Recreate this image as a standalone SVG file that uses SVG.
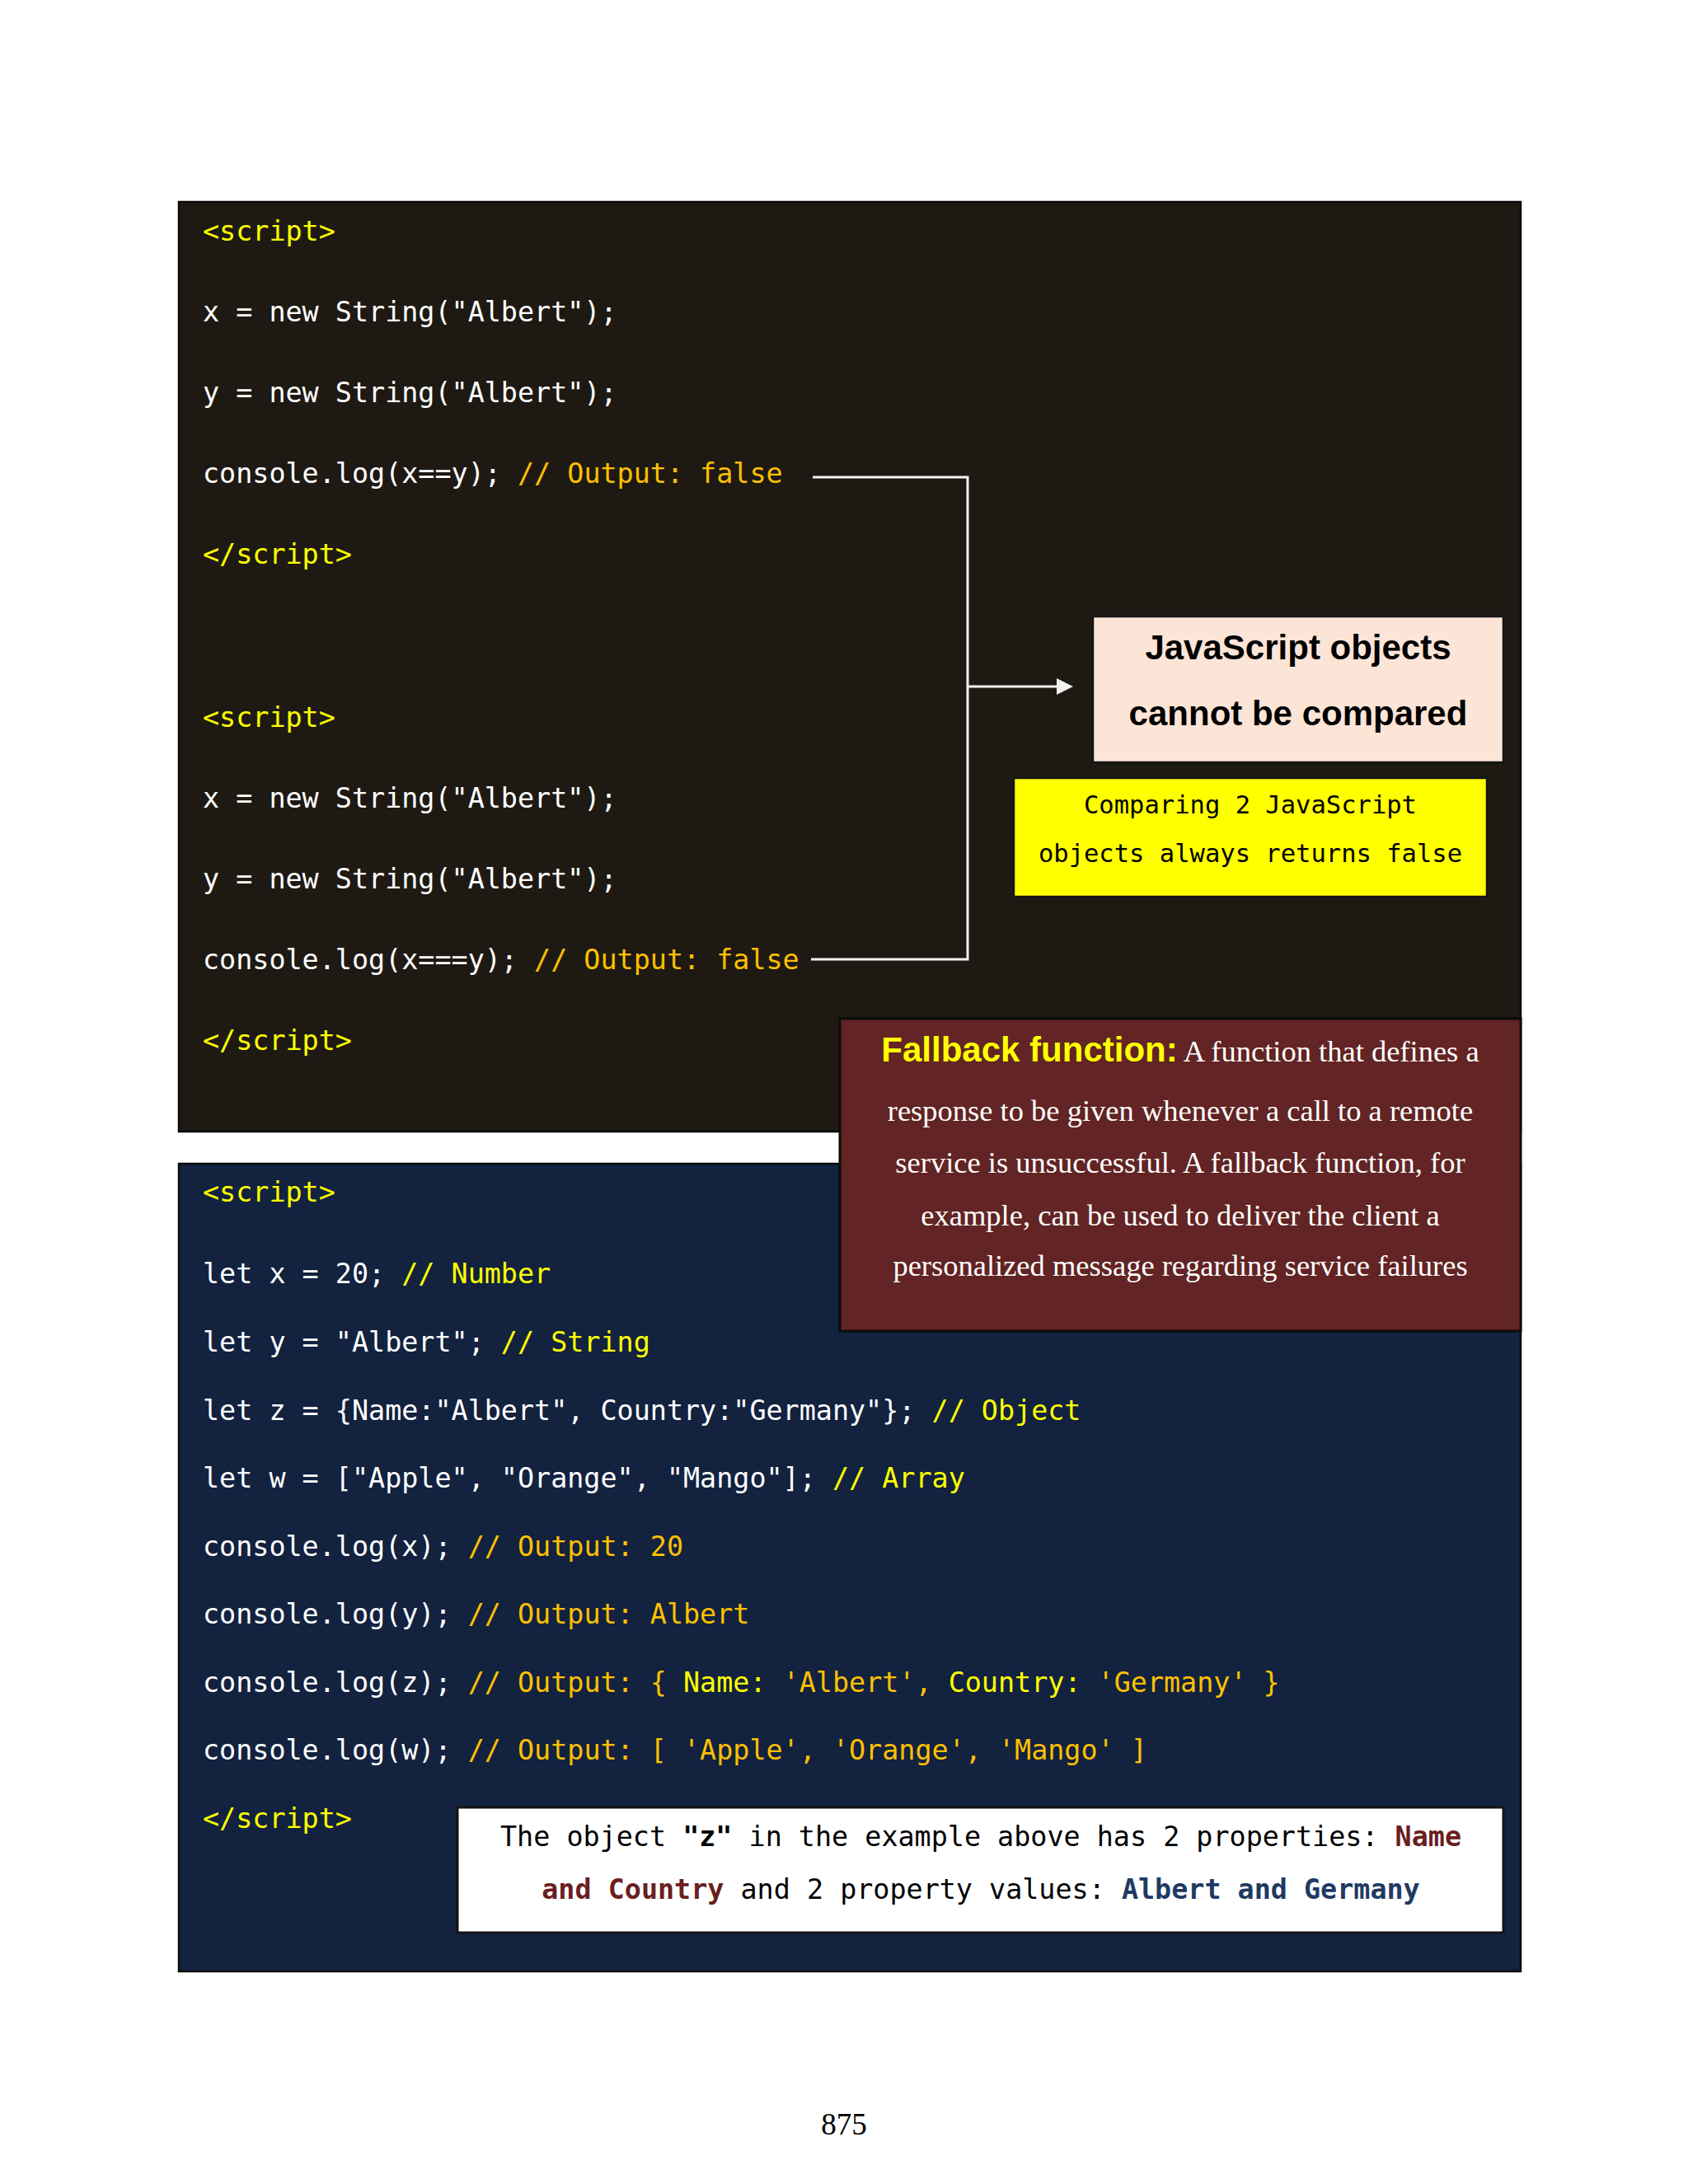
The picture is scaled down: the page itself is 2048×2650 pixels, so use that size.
<svg xmlns="http://www.w3.org/2000/svg" width="2048" height="2650" viewBox="0 0 2048 2650">
<style>
.code{font-family:"DejaVu Sans Mono","Liberation Mono",monospace;font-size:33.4px;fill:#ffffff;white-space:pre}
.tag{fill:#ffff00}
.cmt{fill:#ffc000}
.ylw{fill:#ffff00}
.panel{stroke:#0b0b0b;stroke-width:2.5}
.conn{stroke:#f2f2f2;stroke-width:3;fill:none}
.serif{font-family:"Liberation Serif","Times New Roman",serif;font-size:36.5px;fill:#ffffff}
.bold{font-family:"Liberation Sans",Arial,sans-serif;font-weight:bold}
.note{font-family:"DejaVu Sans Mono","Liberation Mono",monospace;font-size:33.4px;fill:#000000;white-space:pre}
</style>
<defs>
<marker id="arr" markerWidth="20" markerHeight="20" refX="1" refY="10" orient="auto" markerUnits="userSpaceOnUse" viewBox="0 0 20 20">
<path d="M0,0 L20,10 L0,20 Z" fill="#f2f2f2"/>
</marker>
</defs>
<rect width="2048" height="2650" fill="#ffffff"/>

<g id="panel-top">
<rect class="panel" x="217" y="245" width="1628" height="1128" fill="#1e1a13"/>
<text class="code" x="246" y="292"><tspan class="tag">&lt;script&gt;</tspan></text>
<text class="code" x="246" y="390">x = new String("Albert");</text>
<text class="code" x="246" y="488">y = new String("Albert");</text>
<text class="code" x="246" y="586">console.log(x==y); <tspan class="cmt">// Output: false</tspan></text>
<text class="code" x="246" y="684"><tspan class="tag">&lt;/script&gt;</tspan></text>
<text class="code" x="246" y="882"><tspan class="tag">&lt;script&gt;</tspan></text>
<text class="code" x="246" y="980">x = new String("Albert");</text>
<text class="code" x="246" y="1078">y = new String("Albert");</text>
<text class="code" x="246" y="1176">console.log(x===y); <tspan class="cmt">// Output: false</tspan></text>
<text class="code" x="246" y="1274"><tspan class="tag">&lt;/script&gt;</tspan></text>
</g>

<g id="panel-bottom">
<rect class="panel" x="217" y="1412" width="1628" height="980" fill="#12223f"/>
<text class="code" x="246" y="1458"><tspan class="tag">&lt;script&gt;</tspan></text>
<text class="code" x="246" y="1557">let x = 20; <tspan class="ylw">// Number</tspan></text>
<text class="code" x="246" y="1640">let y = "Albert"; <tspan class="ylw">// String</tspan></text>
<text class="code" x="246" y="1723">let z = {Name:"Albert", Country:"Germany"}; <tspan class="ylw">// Object</tspan></text>
<text class="code" x="246" y="1805">let w = ["Apple", "Orange", "Mango"]; <tspan class="ylw">// Array</tspan></text>
<text class="code" x="246" y="1888">console.log(x); <tspan class="cmt">// Output: 20</tspan></text>
<text class="code" x="246" y="1970">console.log(y); <tspan class="cmt">// Output: Albert</tspan></text>
<text class="code" x="246" y="2053">console.log(z); <tspan class="cmt">// Output: { </tspan><tspan class="ylw">Name: </tspan><tspan class="cmt">'Albert', </tspan><tspan class="ylw">Country: </tspan><tspan class="cmt">'Germany' }</tspan></text>
<text class="code" x="246" y="2135">console.log(w); <tspan class="cmt">// Output: [ 'Apple', 'Orange', 'Mango' ]</tspan></text>
<text class="code" x="246" y="2218"><tspan class="tag">&lt;/script&gt;</tspan></text>
</g>

<g id="connectors">
<polyline class="conn" points="986,579 1174,579 1174,1164 984,1164"/>
<line class="conn" x1="1174" y1="833" x2="1283" y2="833" marker-end="url(#arr)"/>
</g>

<g id="node-cannot-compare">
<rect x="1326" y="748" width="498" height="177" fill="#fce4d6" stroke="#141414" stroke-width="2.5"/>
<text class="bold" x="1575" y="800" font-size="42" text-anchor="middle" fill="#000000">JavaScript objects</text>
<text class="bold" x="1575" y="880" font-size="42" text-anchor="middle" fill="#000000">cannot be compared</text>
</g>

<g id="node-always-false">
<rect x="1230" y="944" width="574" height="144" fill="#ffff00" stroke="#141414" stroke-width="2.5"/>
<text x="1517" y="987" font-family="DejaVu Sans Mono, Liberation Mono, monospace" font-size="30.5" text-anchor="middle" fill="#000000">Comparing 2 JavaScript</text>
<text x="1517" y="1046" font-family="DejaVu Sans Mono, Liberation Mono, monospace" font-size="30.5" text-anchor="middle" fill="#000000">objects always returns false</text>
</g>

<g id="node-fallback">
<rect x="1019" y="1236" width="826" height="379" fill="#622424" stroke="#0b0b0b" stroke-width="3"/>
<text class="serif" x="1432" y="1288" text-anchor="middle"><tspan class="bold" font-size="42" fill="#ffff00">Fallback function:</tspan> A function that defines a</text>
<text class="serif" x="1432" y="1360" text-anchor="middle">response to be given whenever a call to a remote</text>
<text class="serif" x="1432" y="1423" text-anchor="middle">service is unsuccessful. A fallback function, for</text>
<text class="serif" x="1432" y="1487" text-anchor="middle">example, can be used to deliver the client a</text>
<text class="serif" x="1432" y="1548" text-anchor="middle">personalized message regarding service failures</text>
</g>

<g id="node-note">
<rect x="555" y="2193" width="1269" height="152" fill="#ffffff" stroke="#141414" stroke-width="3"/>
<text class="note" x="1190" y="2240" text-anchor="middle">The object <tspan font-weight="bold">"z"</tspan> in the example above has 2 properties: <tspan font-weight="bold" fill="#6b1f1f">Name</tspan></text>
<text class="note" x="1190" y="2304" text-anchor="middle"><tspan font-weight="bold" fill="#6b1f1f">and Country</tspan> and 2 property values: <tspan font-weight="bold" fill="#1f3a63">Albert and Germany</tspan></text>
</g>

<text x="1024" y="2590" font-family="Liberation Serif, Times New Roman, serif" font-size="37" text-anchor="middle" fill="#000000">875</text>
</svg>
